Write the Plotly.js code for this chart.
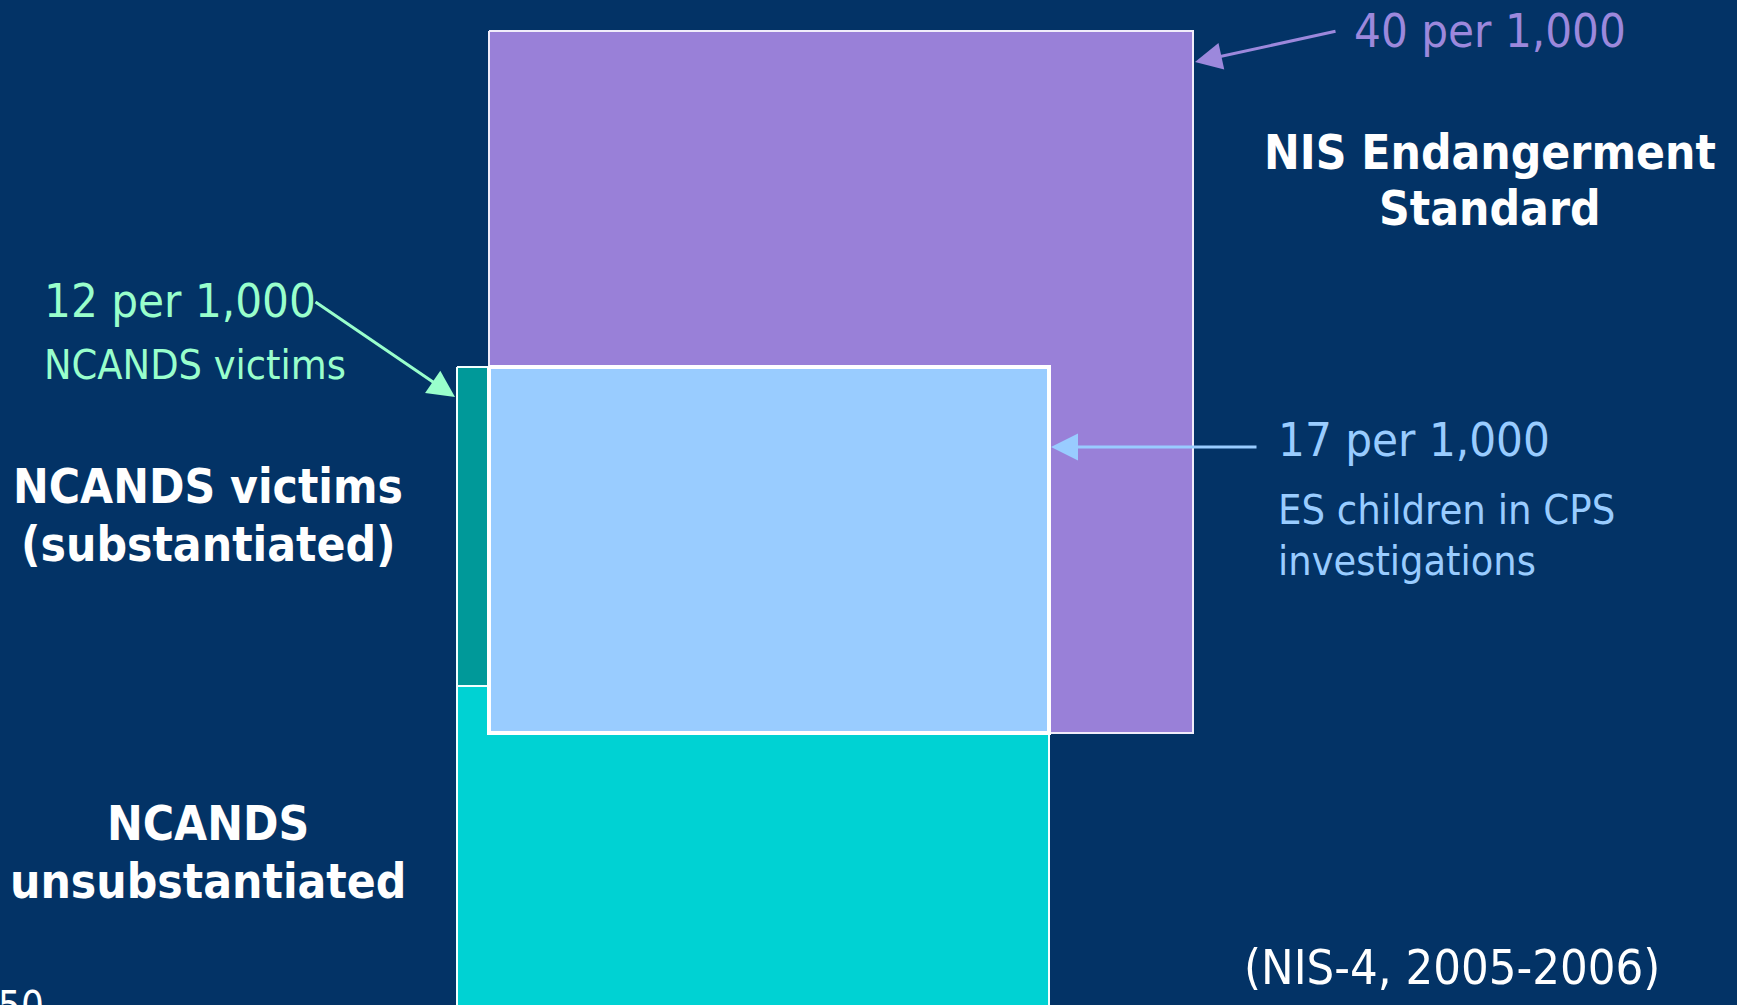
<!DOCTYPE html>
<html>
<head>
<meta charset="utf-8">
<script src="https://cdn.plot.ly/plotly-3.0.1.min.js"></script>
<style>
  html, body { margin: 0; padding: 0; background: #033366; overflow: hidden; }
  #chart { width: 1737px; height: 1005px; }
</style>
</head>
<body>
<div id="chart"></div>
<script>
// ---- Data (diagram units on hidden axes) ----
const groups   = ['NIS Endangerment Standard', 'NCANDS unsubstantiated', 'NCANDS victims (substantiated)', 'ES children in CPS investigations'];
const rates    = [40, null, 12, 17];               // per 1,000 children
const boxLeft  = [489, 457, 457, 489];
const boxRight = [1193, 1049, 1049, 1049];
const boxTop   = [31, 686, 367, 367];
const boxBottom= [733, 1030, 686, 733];
const fills    = ['#9980D8', '#00D2D3', '#009999', '#99CCFF'];
const borders  = ['#F0ECFA', '#F2FFFF', '#F2FFFF', '#FFFFFF'];
const borderW  = [2, 2, 2, 4];

const rateLabels = ['40 per 1,000', '12 per 1,000', '17 per 1,000'];
const source = '(NIS-4, 2005-2006)';
const slideNumber = '50';

const FONT_REG = '"DejaVu Sans Condensed", Tahoma, "DejaVu Sans", sans-serif';
const FONT_B = '"DejaVu Sans Condensed", Tahoma, "DejaVu Sans", sans-serif';

const traces = groups.map((g, i) => ({
  type: 'scatter',
  mode: 'lines',
  name: g,
  x: [boxLeft[i], boxRight[i], boxRight[i], boxLeft[i], boxLeft[i]],
  y: [boxTop[i], boxTop[i], boxBottom[i], boxBottom[i], boxTop[i]],
  fill: 'toself',
  fillcolor: fills[i],
  line: { color: borders[i], width: borderW[i] },
  hoverinfo: 'skip'
}));

const PURPLE_TXT = '#9C88DC';
const MINT = '#99FFCC';
const LBLUE = '#99CCFF';

function txt(x, y, text, color, size, bold, xanchor) {
  return {
    x: x, y: y, xref: 'x', yref: 'y', text: bold ? '<b>' + text + '</b>' : text,
    showarrow: false, xanchor: xanchor || 'left', yanchor: 'middle',
    font: { family: bold ? FONT_B : FONT_REG, size: size, color: color }
  };
}
function arrow(tx, ty, hx, hy, color) {
  return {
    x: hx, y: hy, ax: tx, ay: ty, xref: 'x', yref: 'y', axref: 'x', ayref: 'y',
    text: '', showarrow: true, arrowhead: 2, arrowsize: 1.8, arrowwidth: 3,
    arrowcolor: color, standoff: 0, startstandoff: 0
  };
}

const annotations = [
  txt(1352, 30, rateLabels[0], PURPLE_TXT, 47, false),
  arrow(1337, 31, 1195, 62, PURPLE_TXT),
  txt(1490, 152, 'NIS Endangerment', '#FFFFFF', 47.5, true, 'center'),
  txt(1490, 208, 'Standard', '#FFFFFF', 47.5, true, 'center'),

  txt(42, 300, rateLabels[1], MINT, 47, false),
  txt(42, 365, 'NCANDS victims', MINT, 41, false),
  arrow(314, 301, 455, 397, MINT),

  txt(208, 486, 'NCANDS victims', '#FFFFFF', 47.5, true, 'center'),
  txt(208, 544, '(substantiated)', '#FFFFFF', 47.5, true, 'center'),
  txt(208, 823, 'NCANDS', '#FFFFFF', 47.5, true, 'center'),
  txt(208, 881, 'unsubstantiated', '#FFFFFF', 47.5, true, 'center'),

  txt(1276, 439, rateLabels[2], LBLUE, 47, false),
  txt(1276, 510, 'ES children in CPS', LBLUE, 41.3, false),
  txt(1276, 561, 'investigations', LBLUE, 41, false),
  arrow(1258, 447, 1051, 447, LBLUE),

  txt(1242, 967, source, '#FFFFFF', 48.5, false),
  { x: 0, y: 981, xref: 'x', yref: 'y', xshift: -4, text: slideNumber, showarrow: false,
    xanchor: 'left', yanchor: 'top',
    font: { family: FONT_REG, size: 40, color: '#FFFFFF' } }
];

const layout = {
  width: 1737, height: 1005,
  margin: { l: 0, r: 0, t: 0, b: 0, pad: 0 },
  paper_bgcolor: '#033366', plot_bgcolor: '#033366',
  showlegend: false,
  xaxis: { range: [0, 1737], visible: false, fixedrange: true },
  yaxis: { range: [1005, 0], visible: false, fixedrange: true },
  annotations: annotations
};

Plotly.newPlot('chart', traces, layout, { displayModeBar: false, staticPlot: true });
</script>
</body>
</html>
